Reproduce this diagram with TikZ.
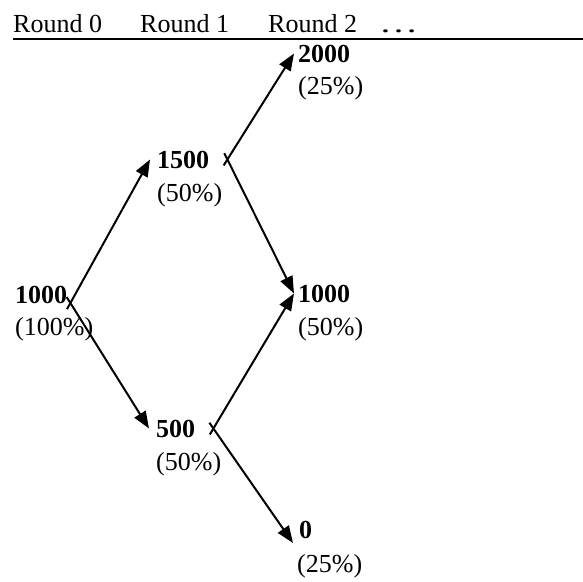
\documentclass[tikz,border=0pt]{standalone}
\usepackage{fontspec}
\usepackage{graphicx}
\setmainfont{Liberation Serif}
\usetikzlibrary{arrows.meta}
\begin{document}
\begin{tikzpicture}[x=1pt,y=-1pt,
  txt/.style={font=\fontsize{26}{31}\selectfont, inner sep=0pt, anchor=base west},
  num/.style={txt, font=\fontsize{26}{31}\selectfont\bfseries},
  conn/.style={line width=2pt, -{Triangle[length=17pt,width=13pt]}, shorten <=-7pt}]
\useasboundingbox (0,0) rectangle (583,581);
% header
\node[txt] (h0) at (13,32) {Round 0};
\node[txt] (h1) at (140,32) {Round 1};
\node[txt] (h2) at (268,32) {Round 2};
\node[txt] (h3) at (379,32) {\scalebox{1.5}[1]{…}};
\coordinate (ls) at (13,39);
\coordinate (le) at (583,39);
\draw[line width=2.5pt] (ls) -- (le);
% nodes
\node[num] (n1000a) at (15,303) {1000};
\node[txt] (p1000a) at (15,335) {(100\%)};
\node[num] (n1500) at (157,168) {1500};
\node[txt] (p1500) at (157,201) {(50\%)};
\node[num] (n2000) at (298,62) {2000};
\node[txt] (p2000) at (298,94) {(25\%)};
\node[num] (n1000b) at (298,302) {1000};
\node[txt] (p1000b) at (298,335) {(50\%)};
\node[num] (n500) at (156,437) {500};
\node[txt] (p500) at (156,470) {(50\%)};
\node[num] (n0) at (299,538) {0};
\node[txt] (p0) at (297,572) {(25\%)};
% connectors
\draw[conn] ([xshift=3pt]n1000a.base east) -- ([xshift=-7pt]n1500.west);
\draw[conn] ([xshift=3pt]n1000a.base east) -- ([xshift=-7pt]n500.west);
\draw[conn] ([xshift=18pt]n1500.east) -- ([xshift=-4pt]n2000.west);
\draw[conn] ([xshift=18pt]n1500.east) -- ([xshift=-4pt]n1000b.west);
\draw[conn] ([xshift=18pt]n500.east) -- ([xshift=-4pt]n1000b.west);
\draw[conn] ([xshift=18pt]n500.east) -- ([shift={(-6pt,-5pt)}]n0.base west);
\end{tikzpicture}
\end{document}
